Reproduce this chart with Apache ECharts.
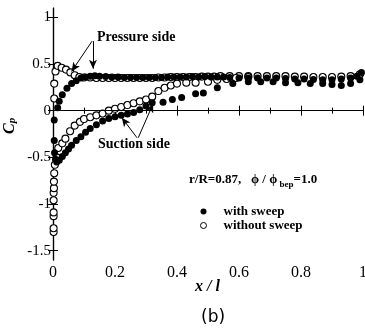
<!DOCTYPE html>
<html>
<head>
<meta charset="utf-8">
<script src="https://cdn.jsdelivr.net/npm/echarts@6/dist/echarts.min.js"></script>
<style>
  html, body { margin: 0; padding: 0; background: #fff; }
  #main { width: 365px; height: 336px; }
</style>
</head>
<body>
<div id="main"></div>
<script>
// [x/l, Cp]
var pressureWith = [
    [0.015, 0.03], [0.02, 0.1], [0.03, 0.17], [0.045, 0.24], [0.06, 0.29], [0.075, 0.32],
    [0.09, 0.35], [0.105, 0.36], [0.12, 0.37], [0.135, 0.375], [0.15, 0.37], [0.17, 0.365],
    [0.19, 0.36], [0.21, 0.36], [0.23, 0.355], [0.25, 0.355], [0.27, 0.355], [0.29, 0.355],
    [0.31, 0.355], [0.33, 0.355], [0.35, 0.355], [0.37, 0.36], [0.39, 0.36], [0.41, 0.36],
    [0.43, 0.36], [0.45, 0.365], [0.47, 0.36], [0.49, 0.365], [0.51, 0.36], [0.53, 0.36],
    [0.55, 0.36], [0.57, 0.355], [0.6, 0.35], [0.63, 0.35], [0.66, 0.35], [0.69, 0.35],
    [0.72, 0.35], [0.75, 0.345], [0.78, 0.34], [0.81, 0.34], [0.84, 0.335], [0.87, 0.33],
    [0.9, 0.33], [0.93, 0.34], [0.96, 0.35], [0.98, 0.37], [0.995, 0.41]
];
var suctionWith = [
    [0.004, -0.1], [0.004, -0.32], [0.005, -0.45], [0.008, -0.52], [0.012, -0.55], [0.02, -0.53],
    [0.03, -0.49], [0.04, -0.45], [0.05, -0.41], [0.06, -0.37], [0.075, -0.32], [0.09, -0.28],
    [0.105, -0.23], [0.12, -0.19], [0.14, -0.15], [0.16, -0.11], [0.18, -0.085], [0.2, -0.065],
    [0.22, -0.05], [0.24, -0.035], [0.26, -0.02], [0.28, 0.01], [0.3, 0.05], [0.32, 0.085],
    [0.355, 0.09], [0.385, 0.12], [0.415, 0.14], [0.46, 0.18], [0.485, 0.19], [0.53, 0.245],
    [0.58, 0.29], [0.63, 0.31], [0.67, 0.31], [0.71, 0.31], [0.75, 0.3], [0.79, 0.3],
    [0.83, 0.29], [0.87, 0.29], [0.9, 0.28], [0.93, 0.27], [0.96, 0.29], [0.99, 0.33]
];
var pressureWithout = [
    [0.004, 0.13], [0.004, 0.29], [0.008, 0.42], [0.015, 0.48], [0.028, 0.46], [0.042, 0.44],
    [0.056, 0.41], [0.07, 0.38], [0.085, 0.36], [0.1, 0.355], [0.12, 0.355], [0.14, 0.35],
    [0.16, 0.35], [0.18, 0.35], [0.2, 0.35], [0.22, 0.35], [0.24, 0.35], [0.26, 0.35],
    [0.28, 0.35], [0.3, 0.35], [0.32, 0.35], [0.34, 0.355], [0.36, 0.355], [0.38, 0.36],
    [0.4, 0.36], [0.42, 0.36], [0.44, 0.36], [0.46, 0.36], [0.48, 0.365], [0.5, 0.365],
    [0.52, 0.365], [0.54, 0.37], [0.57, 0.37], [0.6, 0.37], [0.63, 0.37], [0.66, 0.37],
    [0.69, 0.37], [0.72, 0.37], [0.75, 0.37], [0.78, 0.365], [0.81, 0.365], [0.84, 0.36],
    [0.87, 0.36], [0.9, 0.36], [0.93, 0.365], [0.96, 0.37], [0.99, 0.39]
];
var suctionWithout = [
    [0.002, -1.3], [0.002, -1.26], [0.002, -1.13], [0.002, -1.09], [0.002, -0.96], [0.002, -0.88],
    [0.003, -0.83], [0.003, -0.76], [0.004, -0.67], [0.006, -0.58], [0.012, -0.5], [0.017, -0.4],
    [0.03, -0.35], [0.04, -0.3], [0.055, -0.22], [0.07, -0.16], [0.087, -0.12], [0.1, -0.09],
    [0.12, -0.07], [0.14, -0.05], [0.16, -0.03], [0.18, 0.0], [0.2, 0.02], [0.22, 0.04],
    [0.24, 0.06], [0.26, 0.08], [0.28, 0.1], [0.3, 0.12], [0.32, 0.15], [0.34, 0.21],
    [0.36, 0.245], [0.38, 0.27], [0.4, 0.29], [0.43, 0.3], [0.46, 0.3], [0.5, 0.31],
    [0.53, 0.33], [0.56, 0.34], [0.59, 0.35], [0.63, 0.36]
];
var yTicks = [-1.5, -1, -0.5, 0, 0.5, 1];
var withSweep = pressureWith.concat(suctionWith);
var withoutSweep = pressureWithout.concat(suctionWithout);

var serif = '"Liberation Serif", "DejaVu Serif", serif';

var myChart = echarts.init(document.getElementById('main'));

var arrowLine = {
    color: '#000',
    width: 1,
    type: 'solid'
};

var option = {
    animation: false,
    grid: { left: 53, right: 2, top: 8, bottom: 76, containLabel: false, outerBoundsMode: 'none' },
    legend: {
        orient: 'vertical',
        left: 195,
        top: 200,
        itemGap: 1,
        itemWidth: 6,
        itemHeight: 6,
        icon: 'circle',
        data: [
            { name: 'with sweep' },
            { name: 'without sweep', itemStyle: { color: '#fff', borderColor: '#000', borderWidth: 1 } }
        ],
        textStyle: { fontFamily: serif, fontWeight: 'bold', fontSize: 13, color: '#000', padding: [0, 0, 0, 12] }
    },
    xAxis: [{
        type: 'value',
        min: 0,
        max: 1,
        interval: 0.2,
        axisLine: { lineStyle: { color: '#000', width: 1.2 } },
        axisTick: { inside: true, length: 5, lineStyle: { color: '#000' } },
        minorTick: { show: true, splitNumber: 2, length: 3, lineStyle: { color: '#000' } },
        axisLabel: {
            margin: 5, fontFamily: serif, fontSize: 16, color: '#000',
            formatter: function (v) { return String(v); }
        },
        splitLine: { show: false }
    }, {
        type: 'value',
        position: 'top',
        min: 0,
        max: 1,
        interval: 0.2,
        axisLine: { show: true, lineStyle: { color: '#000', width: 1.2 } },
        axisTick: { inside: true, length: 5, lineStyle: { color: '#000' } },
        minorTick: { show: true, splitNumber: 2, length: 3, lineStyle: { color: '#000' } },
        axisLabel: { show: false },
        splitLine: { show: false }
    }],
    yAxis: [{
        type: 'value',
        min: -1.6,
        max: 1.1,
        axisLine: { show: true, lineStyle: { color: '#000', width: 1.2 } },
        axisTick: { inside: true, length: 5, customValues: yTicks, lineStyle: { color: '#000' } },
        axisLabel: {
            margin: 2, fontFamily: serif, fontSize: 15, color: '#000',
            customValues: yTicks,
            formatter: function (v) { return String(v); }
        },
        splitLine: { show: false }
    }, {
        type: 'value',
        position: 'right',
        min: -1.6,
        max: 1.1,
        axisLine: { show: true, lineStyle: { color: '#000', width: 1.2 } },
        axisTick: { inside: true, length: 5, customValues: yTicks, lineStyle: { color: '#000' } },
        axisLabel: { show: false, customValues: yTicks },
        splitLine: { show: false }
    }],
    series: [
        {
            name: 'without sweep',
            type: 'scatter',
            symbolSize: 7,
            itemStyle: { color: '#fff', borderColor: '#000', borderWidth: 1.1, opacity: 1 },
            data: withoutSweep,
            z: 3
        },
        {
            name: 'with sweep',
            type: 'scatter',
            symbolSize: 7,
            itemStyle: { color: '#000', opacity: 1 },
            data: withSweep,
            z: 4,
            markLine: {
                silent: true,
                symbol: ['none', 'arrow'],
                symbolSize: [6, 9],
                label: { show: false },
                lineStyle: arrowLine,
                data: [
                    [{ coord: [0.126, 0.745], symbol: 'none' }, { coord: [0.06, 0.42] }],
                    [{ coord: [0.129, 0.745], symbol: 'none' }, { coord: [0.129, 0.45] }],
                    [{ coord: [0.271, -0.29], symbol: 'none' }, { coord: [0.222, -0.075] }],
                    [{ coord: [0.275, -0.29], symbol: 'none' }, { coord: [0.323, 0.075] }],
                    [{ coord: [0, 0], symbol: 'none' }, { coord: [1, 0], symbol: 'none' }]
                ]
            }
        }
    ],
    graphic: [
        {
            type: 'text', left: 97, top: 30,
            style: { text: 'Pressure side', font: 'bold 14px ' + serif, fill: '#000' }
        },
        {
            type: 'text', left: 98, top: 137,
            style: { text: 'Suction side', font: 'bold 14px ' + serif, fill: '#000' }
        },
        {
            type: 'text', left: 189, top: 173,
            style: {
                text: '{a|r/R=0.87,   \u03d5 / \u03d5}{s| bep}{a|=1.0}',
                rich: {
                    a: { fontFamily: serif, fontWeight: 'bold', fontSize: 13, fill: '#000', verticalAlign: 'bottom' },
                    s: { fontFamily: serif, fontWeight: 'bold', fontSize: 9, fill: '#000', verticalAlign: 'bottom', padding: [0, 0, -3, 0] }
                }
            }
        },
        {
            type: 'text', x: 1, y: 134, rotation: Math.PI / 2,
            style: {
                text: '{c|C}{p|p}',
                rich: {
                    c: { fontFamily: serif, fontStyle: 'italic', fontWeight: 'bold', fontSize: 16, fill: '#000' },
                    p: { fontFamily: serif, fontStyle: 'italic', fontWeight: 'bold', fontSize: 11, fill: '#000', padding: [6, 0, 0, 0] }
                }
            }
        },
        {
            type: 'text', left: 195, top: 279,
            style: { text: 'x / l', font: 'italic bold 16px ' + serif, fill: '#000' }
        },
        {
            type: 'text', left: 201, top: 309,
            style: { text: '(b)', font: '17px "DejaVu Sans", sans-serif', fill: '#000' }
        }
    ]
};

myChart.setOption(option);
</script>
</body>
</html>
